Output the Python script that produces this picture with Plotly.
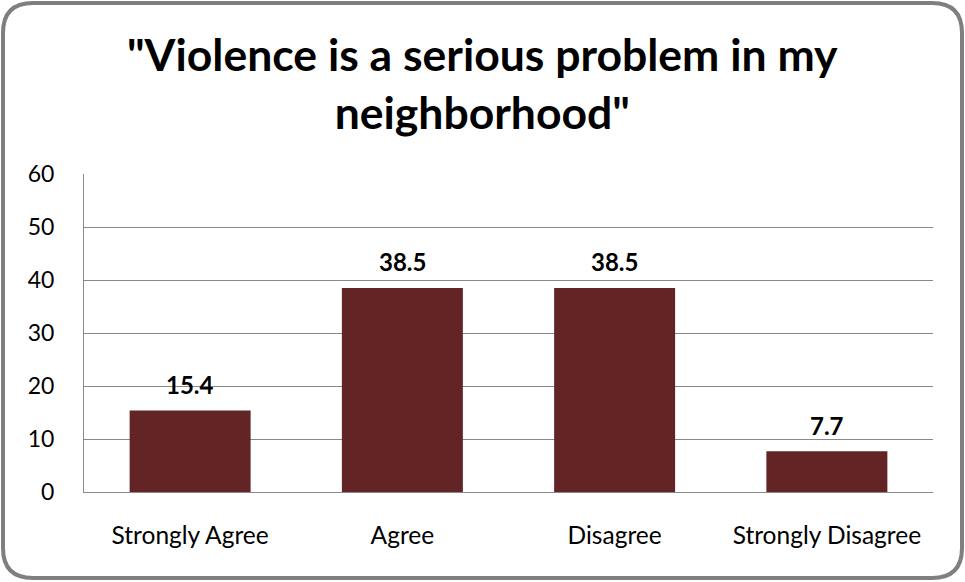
import plotly.graph_objects as go

categories = ["Strongly Agree", "Agree", "Disagree", "Strongly Disagree"]
values = [15.4, 38.5, 38.5, 7.7]
value_labels = ["15.4", "38.5", "38.5", "7.7"]
y_ticks = [0, 10, 20, 30, 40, 50, 60]
title_text = "\"Violence is a serious problem in my<br>neighborhood\""

W, H = 965, 582
L, R, T, B = 84, 32, 174, 90
pw, ph = W - L - R, H - T - B
FONT = "Lato"

def px(x):
    return (x - L) / pw

def py(y):
    return (H - B - y) / ph

# rounded border path in paper coords
x0, x1, y0, y1, r = 3, 962, 3, 578, 30
path = (
    f"M {px(x0 + r)},{py(y0)} L {px(x1 - r)},{py(y0)} "
    f"Q {px(x1)},{py(y0)} {px(x1)},{py(y0 + r)} "
    f"L {px(x1)},{py(y1 - r)} Q {px(x1)},{py(y1)} {px(x1 - r)},{py(y1)} "
    f"L {px(x0 + r)},{py(y1)} Q {px(x0)},{py(y1)} {px(x0)},{py(y1 - r)} "
    f"L {px(x0)},{py(y0 + r)} Q {px(x0)},{py(y0)} {px(x0 + r)},{py(y0)} Z"
)

fig = go.Figure()
fig.add_trace(go.Bar(
    x=categories, y=values,
    marker=dict(color="#632425", line=dict(width=0)),
    width=0.57,
    cliponaxis=False,
))

annotations = [
    dict(x=c, y=v, xref="x", yref="y", text=f"<b>{t}</b>", showarrow=False,
         yanchor="middle", yshift=26,
         font=dict(family=FONT, size=24, color="#000000"))
    for c, v, t in zip(categories, values, value_labels)
]
annotations.append(dict(
    x=px(482), xref="paper", y=py(83), yref="paper", xanchor="center", yanchor="middle",
    text=f"<b>{title_text}</b>", showarrow=False,
    font=dict(family=FONT, size=44.5, color="#000000"),
))

fig.update_layout(
    width=W, height=H,
    margin=dict(l=L, r=R, t=T, b=B),
    paper_bgcolor="white", plot_bgcolor="white",
    showlegend=False,
    font=dict(family=FONT, color="#000000"),
    shapes=[dict(type="path", path=path, xref="paper", yref="paper",
                 line=dict(color="#7f7f7f", width=4), layer="above")],
    annotations=annotations,
)
fig.update_yaxes(
    range=[0, 60], tickvals=y_ticks, showgrid=True, gridcolor="#888888", gridwidth=1,
    showline=True, linecolor="#888888", linewidth=1,
    tickfont=dict(family=FONT, size=23, color="#000000"),
    ticks="", ticklabelstandoff=24, zeroline=False,
)
fig.update_xaxes(
    showline=True, linecolor="#888888", linewidth=1,
    tickfont=dict(family=FONT, size=24.5, color="#000000"),
    ticks="", ticklabelstandoff=22,
)

fig.write_html("out.html", config={"displayModeBar": False},
               post_script="document.body.style.margin='0';document.body.style.overflow='hidden';")
